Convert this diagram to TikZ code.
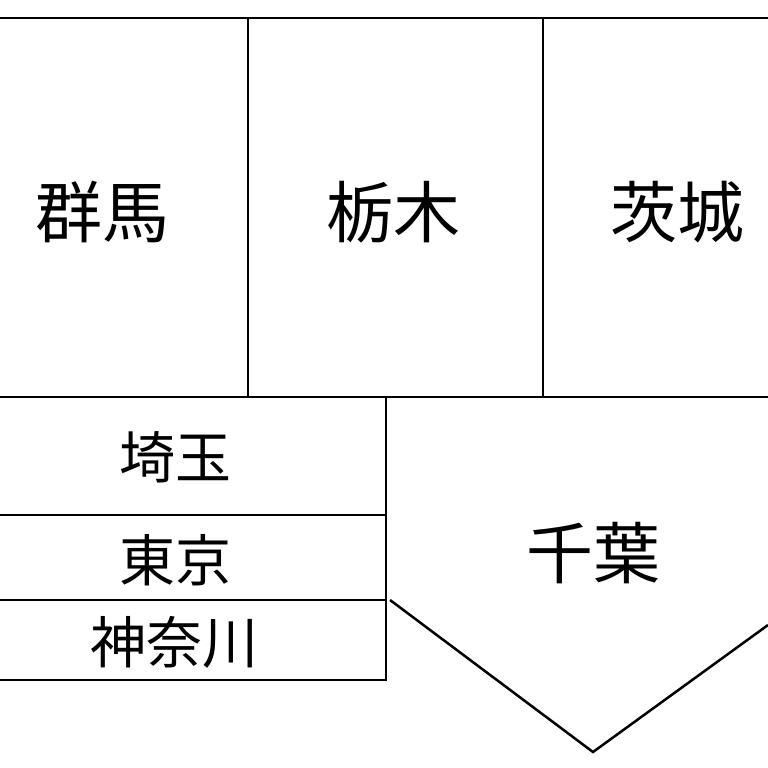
\documentclass[tikz,border=0pt]{standalone}
\usepackage{fontspec}
\newfontfamily\cjk{Noto Sans CJK JP}
\begin{document}
\begin{tikzpicture}[x=1pt,y=-1pt,line width=2.5pt,
  big/.style={font=\cjk\fontsize{67}{75}\selectfont},
  mid/.style={font=\cjk\fontsize{56}{62}\selectfont}]
\useasboundingbox (0,0) rectangle (768,768);
\draw (0,18) -- (768,18);
\draw (248,18) -- (248,397);
\draw (543,18) -- (543,397);
\draw (0,397) -- (768,397);
\draw (386,397) -- (386,680) -- (0,680);
\draw (0,515) -- (386,515);
\draw (0,600) -- (386,600);
\draw (390,600) -- (593,752) -- (768,625);
\node[big] (gunma) at (102,212) {群馬};
\node[big] (tochigi) at (393,212) {栃木};
\node[big] (ibaraki) at (677,212) {茨城};
\node[mid] (saitama) at (175,457) {埼玉};
\node[mid] (tokyo) at (175,560) {東京};
\node[mid] (kanagawa) at (174,642) {神奈川};
\node[big] (chiba) at (593,553) {千葉};
\end{tikzpicture}
\end{document}
